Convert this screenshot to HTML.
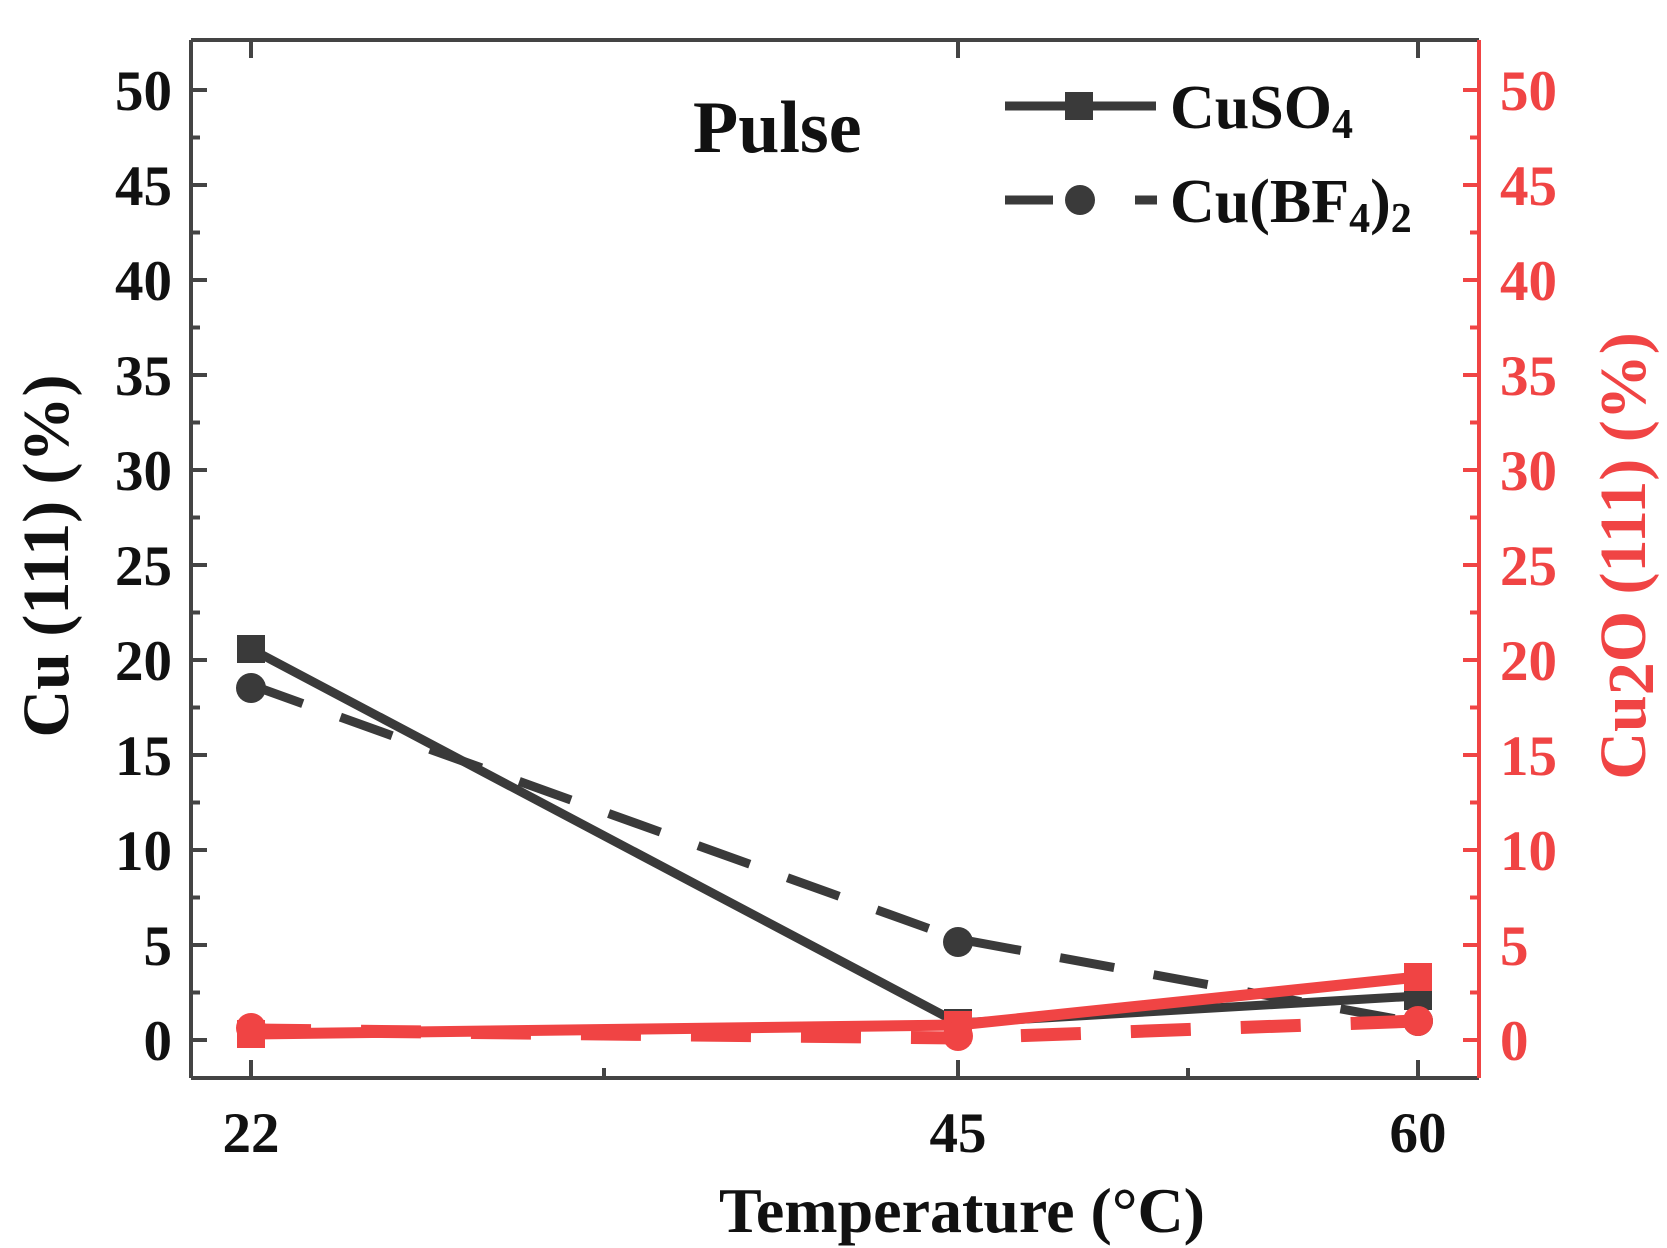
<!DOCTYPE html>
<html><head><meta charset="utf-8"><style>body{margin:0;background:#fff}svg{display:block}</style></head>
<body>
<svg width="1667" height="1248" viewBox="0 0 1667 1248" xmlns="http://www.w3.org/2000/svg" font-family="Liberation Serif, serif" font-weight="bold">
<rect width="1667" height="1248" fill="#fff"/>
<g stroke="#444" stroke-width="4" fill="none">
<line x1="191" y1="40" x2="191" y2="1078"/>
<line x1="191" y1="40" x2="1479" y2="40"/>
<line x1="191" y1="1078" x2="1479" y2="1078"/>
<path d="M251 1078v-18M958 1078v-18M1418 1078v-18M604 1078v-10M1188 1078v-10M251 40v18M958 40v18M1418 40v18"/>
<path d="M191 1040h16M191 945h16M191 850h16M191 755h16M191 660h16M191 565h16M191 470h16M191 375h16M191 280h16M191 185h16M191 90h16"/>
<path d="M191 992.5h9M191 897.5h9M191 802.5h9M191 707.5h9M191 612.5h9M191 517.5h9M191 422.5h9M191 327.5h9M191 232.5h9M191 137.5h9"/>
</g>
<g stroke="#f04444" stroke-width="4" fill="none">
<line x1="1479" y1="40" x2="1479" y2="1078"/>
<path d="M1479 1040h-16M1479 945h-16M1479 850h-16M1479 755h-16M1479 660h-16M1479 565h-16M1479 470h-16M1479 375h-16M1479 280h-16M1479 185h-16M1479 90h-16"/>
<path d="M1479 992.5h-9M1479 897.5h-9M1479 802.5h-9M1479 707.5h-9M1479 612.5h-9M1479 517.5h-9M1479 422.5h-9M1479 327.5h-9M1479 232.5h-9M1479 137.5h-9"/>
</g>
<g font-size="57" fill="#111" text-anchor="end">
<text x="172" y="1060">0</text><text x="172" y="965">5</text><text x="172" y="870">10</text><text x="172" y="775">15</text><text x="172" y="680">20</text><text x="172" y="585">25</text><text x="172" y="490">30</text><text x="172" y="395">35</text><text x="172" y="300">40</text><text x="172" y="205">45</text><text x="172" y="110">50</text>
</g>
<g font-size="57" fill="#f04444">
<text x="1500" y="1060">0</text><text x="1500" y="965">5</text><text x="1500" y="870">10</text><text x="1500" y="775">15</text><text x="1500" y="680">20</text><text x="1500" y="585">25</text><text x="1500" y="490">30</text><text x="1500" y="395">35</text><text x="1500" y="300">40</text><text x="1500" y="205">45</text><text x="1500" y="110">50</text>
</g>
<g font-size="57" fill="#111" text-anchor="middle">
<text x="251" y="1152">22</text><text x="958" y="1152">45</text><text x="1418" y="1152">60</text>
<text x="962" y="1232" font-size="64">Temperature (°C)</text>
</g>
<text transform="translate(68,556) rotate(-90)" font-size="66" fill="#111" text-anchor="middle">Cu (111) (%)</text>
<text transform="translate(1645,556) rotate(-90)" font-size="66" fill="#f04444" text-anchor="middle">Cu<tspan dy="8">2</tspan><tspan dy="-8">O (111) (%)</tspan></text>
<text x="693" y="152" font-size="74" fill="#111">Pulse</text>

<!-- black series -->
<polyline points="251,649 958,1023 1418,996" fill="none" stroke="#3a3a3a" stroke-width="9"/>
<polyline points="251,685 958,939 1418,1023" fill="none" stroke="#3a3a3a" stroke-width="9" stroke-dasharray="55,40"/>
<rect x="237" y="635" width="28" height="28" fill="#3a3a3a"/>
<rect x="944" y="1009" width="28" height="28" fill="#3a3a3a"/>
<rect x="1404" y="982" width="28" height="28" fill="#3a3a3a"/>
<circle cx="251" cy="688" r="15" fill="#3a3a3a"/>
<circle cx="958" cy="942" r="15" fill="#3a3a3a"/>
<circle cx="1418" cy="1021" r="15" fill="#3a3a3a"/>

<!-- red series -->
<polyline points="251,1030 958,1038 1418,1021" fill="none" stroke="#f04444" stroke-width="13" stroke-dasharray="60,50"/>
<polyline points="251,1034 958,1025 1418,977" fill="none" stroke="#f04444" stroke-width="11"/>
<rect x="237" y="1020" width="28" height="28" fill="#f04444"/>
<rect x="944" y="1011" width="28" height="28" fill="#f04444"/>
<rect x="1404" y="963" width="28" height="28" fill="#f04444"/>
<circle cx="251" cy="1028" r="15" fill="#f04444"/>
<circle cx="958" cy="1036" r="15" fill="#f04444"/>
<circle cx="1418" cy="1021" r="15" fill="#f04444"/>

<!-- legend -->
<line x1="1005" y1="106" x2="1156" y2="106" stroke="#3a3a3a" stroke-width="9"/>
<rect x="1065" y="92" width="28" height="28" fill="#3a3a3a"/>
<text x="1170" y="128" font-size="62" fill="#111">CuSO<tspan font-size="42" dy="10">4</tspan></text>
<path d="M1005 200h48M1135 200h22" stroke="#3a3a3a" stroke-width="9"/>
<circle cx="1080" cy="200" r="15" fill="#3a3a3a"/>
<text x="1170" y="222" font-size="62" fill="#111">Cu(BF<tspan font-size="42" dy="10">4</tspan><tspan dy="-10">)</tspan><tspan font-size="42" dy="10">2</tspan></text>
</svg>
</body></html>
